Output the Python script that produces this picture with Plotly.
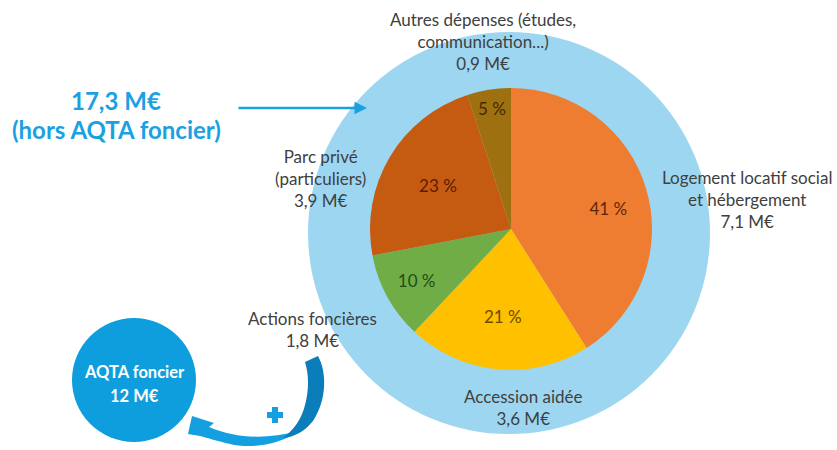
import plotly.graph_objects as go

# ---- data ----
categories = ["Logement locatif social et hébergement", "Accession aidée",
              "Actions foncières", "Parc privé (particuliers)",
              "Autres dépenses (études, communication...)"]
percentages = [41, 21, 10, 23, 5]
amounts = ["7,1 M€", "3,6 M€", "1,8 M€", "3,9 M€", "0,9 M€"]
label_lines = [["Logement locatif social", "et hébergement"],
               ["Accession aidée"],
               ["Actions foncières"],
               ["Parc privé", "(particuliers)"],
               ["Autres dépenses (études,", "communication...)"]]
total_text = ["17,3 M€", "(hors AQTA foncier)"]
aqta_text = ["AQTA foncier", "12 M€"]

slice_colors = ["#EE7D31", "#FFC000", "#70AD47", "#C55A11", "#9E7010"]
text_colors = ["#5E2608", "#6E4A00", "#234D12", "#5C1A04", "#3E2A00"]

W, H = 837, 450
FONT = "Lato"
GREY = "#404040"
BLUE = "#1BA1E2"

# pie geometry (pixels)
cx, cy, r = 511, 229, 141

fig = go.Figure()
# invisible trace to establish pixel-mapped axes
fig.add_trace(go.Scatter(x=[0, W], y=[0, H], mode="markers",
                         marker=dict(opacity=0), hoverinfo="skip", showlegend=False))

pad = "\u00a0" * 13
templates = [pad + "%{value} %", "%{value} %", "%{value} %", "%{value} %", "%{value} %"]

fig.add_trace(go.Pie(
    labels=categories, values=percentages, sort=False, direction="clockwise",
    rotation=0, marker=dict(colors=slice_colors, line=dict(width=0)),
    texttemplate=templates, textinfo="text", textposition="inside",
    insidetextorientation="horizontal",
    textfont=dict(family=FONT, size=17, color=text_colors),
    domain=dict(x=[(cx - r) / W, (cx + r) / W], y=[1 - (cy + r) / H, 1 - (cy - r) / H]),
    showlegend=False, hoverinfo="label+value"))

shapes = []
# large light-blue disc
shapes.append(dict(type="circle", xref="x", yref="y", x0=509 - 201, x1=509 + 201,
                   y0=233 - 201, y1=233 + 201, fillcolor="#9DD6F1",
                   line=dict(width=0), layer="below"))
# AQTA disc
shapes.append(dict(type="circle", xref="x", yref="y", x0=134 - 62, x1=134 + 62,
                   y0=380 - 62, y1=380 + 62, fillcolor="#0E9EDD",
                   line=dict(width=0), layer="below"))
# curved arrow: light part with head
shapes.append(dict(type="path", xref="x", yref="y", layer="above",
                   path=("M 298 431 C 280 445 250 449 230 444 C 218 441 207 438 200 436 "
                         "L 188 434 L 192 416 L 214 423 L 209 427 "
                         "C 235 438 265 440 298 431 Z"),
                   fillcolor="#14A0E0", line=dict(width=0)))
# curved arrow: dark part
shapes.append(dict(type="path", xref="x", yref="y", layer="above",
                   path=("M 305 362 L 318 356 C 327 372 327 400 313 421 "
                         "C 304 432 294 437 283 438 C 294 430 302 418 305 405 "
                         "C 309 390 309 375 305 362 Z"),
                   fillcolor="#0A7DBA", line=dict(width=0)))
# plus sign
shapes.append(dict(type="rect", xref="x", yref="y", x0=267, x1=283, y0=412, y1=418,
                   fillcolor="#14A0E0", line=dict(width=0), layer="above"))
shapes.append(dict(type="rect", xref="x", yref="y", x0=272, x1=278, y0=407, y1=423,
                   fillcolor="#14A0E0", line=dict(width=0), layer="above"))

annotations = []
# category labels
label_pos = [(747, 199), (523, 407), (312, 329), (320, 178), (483, 41)]
for lines, amt, (lx, ly) in zip(label_lines, amounts, label_pos):
    annotations.append(dict(x=lx, y=ly, xref="x", yref="y", showarrow=False,
                            text="<br>".join(lines + [amt]),
                            font=dict(family=FONT, size=17, color=GREY),
                            align="center", xanchor="center", yanchor="middle"))
# total label (one annotation per line)
for txt, ty in zip(total_text, [100, 129]):
    annotations.append(dict(x=116, y=ty, xref="x", yref="y", showarrow=False,
                            text="<b>" + txt + "</b>",
                            font=dict(family=FONT, size=24, color=BLUE),
                            xanchor="center", yanchor="middle"))
# straight arrow
annotations.append(dict(x=367, y=108, ax=237, ay=108, xref="x", yref="y",
                        axref="x", ayref="y", showarrow=True, text="",
                        arrowhead=2, arrowsize=1, arrowwidth=2.5, arrowcolor=BLUE))
# AQTA text
for txt, ty in zip(aqta_text, [372, 396]):
    annotations.append(dict(x=134, y=ty, xref="x", yref="y", showarrow=False,
                            text="<b>" + txt + "</b>",
                            font=dict(family=FONT, size=16.5, color="white"),
                            xanchor="center", yanchor="middle"))

fig.update_layout(
    width=W, height=H, margin=dict(l=0, r=0, t=0, b=0),
    paper_bgcolor="white", plot_bgcolor="rgba(0,0,0,0)",
    xaxis=dict(range=[0, W], visible=False, fixedrange=True),
    yaxis=dict(range=[H, 0], visible=False, fixedrange=True),
    shapes=shapes, annotations=annotations, showlegend=False,
)

fig.write_html("out.html", config={"displayModeBar": False},
               post_script="document.body.style.margin='0';document.body.style.padding='0';")
